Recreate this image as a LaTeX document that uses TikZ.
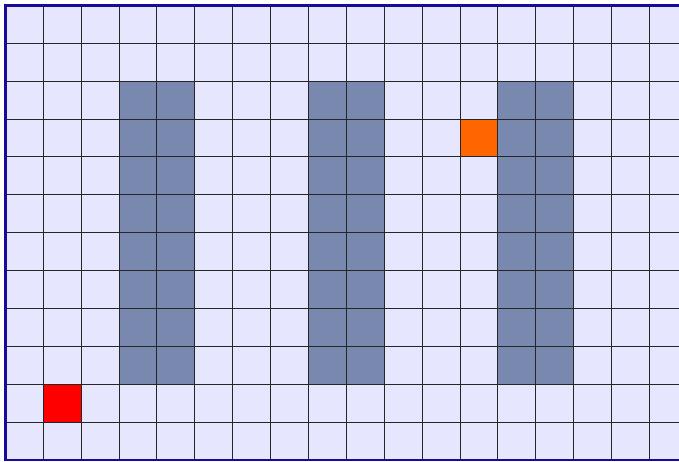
\documentclass[tikz,border=0pt]{standalone}
\usepackage{tikz}
\usetikzlibrary{calc}

\definecolor{cellFree}{RGB}{230,230,255}
\definecolor{cellWall}{RGB}{120,136,174}
\definecolor{cellGoal}{RGB}{255,102,0}
\definecolor{cellStart}{RGB}{255,0,0}
\definecolor{frameBlue}{RGB}{26,10,153}

\tikzset{
	cell/.style={draw=black!85, line width=0.7pt},
}

\begin{document}
\begin{tikzpicture}
		\useasboundingbox (-0.14,-0.05) rectangle (17.78,12.14);
		\clip (-0.14,-0.05) rectangle (17.78,12.14);
		
		% free space
		\fill[cellFree] (0,0) rectangle (18,12);
		
		% walls
		\foreach \xw in {3,8,13}
		{
			\fill[cellWall] (\xw,2) rectangle (\xw+2,10);
		}
		
		% start and goal
		\fill[cellStart] (1,1) rectangle (2,2);
		\fill[cellGoal] (12,8) rectangle (13,9);
		
		% grid
		\draw[cell] (0,0) grid (18,12);
		
		% frame
		\draw[frameBlue, line width=2.2pt] (0,0) rectangle (18,12);
		
	\end{tikzpicture}
\end{document}
